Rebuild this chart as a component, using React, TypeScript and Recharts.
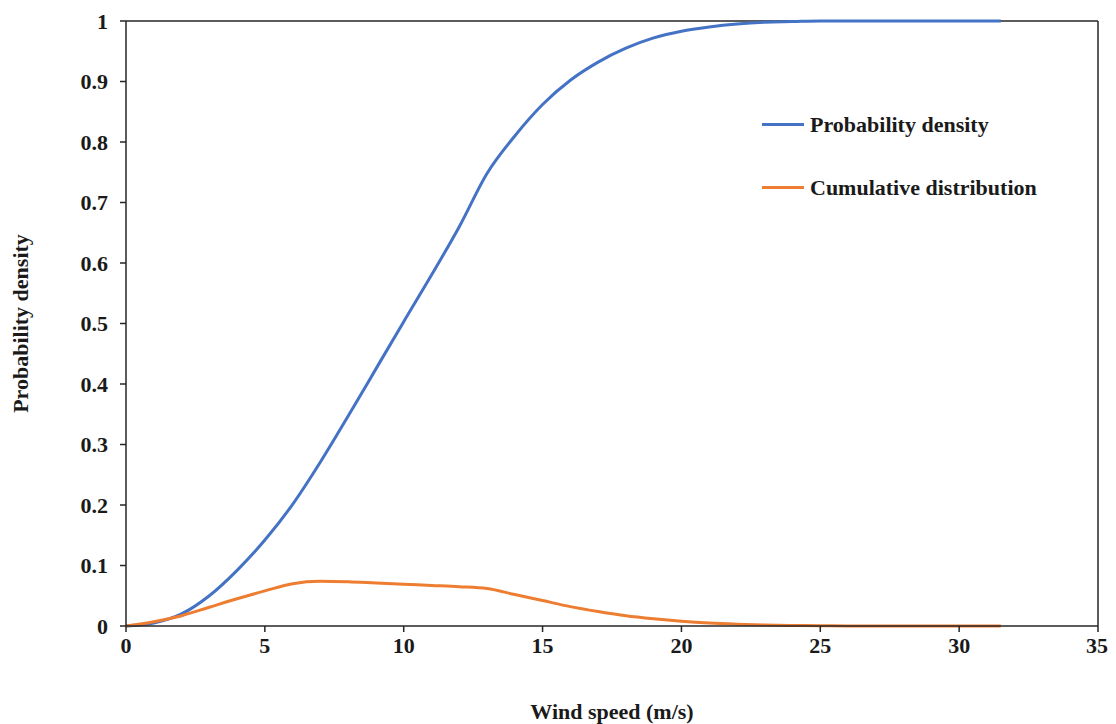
import { Legend, Line, LineChart, ReferenceLine, XAxis, YAxis } from 'recharts'

const FONT = "'Times New Roman', 'Liberation Serif', serif"
const AXIS_COLOR = '#262626'
const BLUE = '#4472C4'
const ORANGE = '#ED7D31'

const windSpeed = [
  0, 1, 2, 3, 4, 5, 6, 7, 8, 9, 10, 11, 12, 13, 14, 15, 16, 17, 18, 19, 20, 21, 22, 23, 24, 25, 26,
  27, 28, 29, 30, 31, 31.5
]
const probabilityDensity = [
  0, 0.005, 0.02, 0.05, 0.092, 0.142, 0.201, 0.271, 0.347, 0.425, 0.503, 0.58, 0.66, 0.748, 0.81,
  0.862, 0.902, 0.932, 0.955, 0.972, 0.983, 0.99, 0.995, 0.998, 0.999, 1, 1, 1, 1, 1, 1, 1, 1
]
const cumulativeDistribution = [
  0, 0.007, 0.017, 0.031, 0.045, 0.058, 0.07, 0.074, 0.073, 0.071, 0.069, 0.067, 0.065, 0.062,
  0.052, 0.042, 0.032, 0.024, 0.017, 0.012, 0.008, 0.005, 0.003, 0.0015, 0.0008, 0.0004, 0, 0, 0,
  0, 0, 0, 0
]
const seriesNames = ['Probability density', 'Cumulative distribution']
const xTicks = [0, 5, 10, 15, 20, 25, 30, 35]
const yTicks = [0, 0.1, 0.2, 0.3, 0.4, 0.5, 0.6, 0.7, 0.8, 0.9, 1]

const data = windSpeed.map((speed, i) => ({
  speed,
  density: probabilityDensity[i],
  cumulative: cumulativeDistribution[i]
}))

const tickStyle = { fontFamily: FONT, fontSize: 22, fontWeight: 700, fill: '#1a1a1a' }

function LegendBox({ payload }: { payload?: { value: string; color: string }[] }) {
  const items = [...(payload ?? [])].sort(
    (a, b) => seriesNames.indexOf(a.value) - seriesNames.indexOf(b.value)
  )
  return (
    <div style={{ fontFamily: FONT, fontWeight: 700, fontSize: 22, color: '#1a1a1a' }}>
      {items.map(item => (
        <div
          key={item.value}
          style={{ display: 'flex', alignItems: 'center', height: 63 }}
        >
          <span style={{ width: 42, height: 3, background: item.color, marginRight: 6 }} />
          <span>{item.value}</span>
        </div>
      ))}
    </div>
  )
}

export default function App() {
  return (
    <LineChart
      data={data}
      height={716}
      margin={{ top: 13, right: 10, bottom: 0, left: 0 }}
      width={1100}
    >
      <XAxis
        axisLine={{ stroke: AXIS_COLOR, strokeWidth: 1.5 }}
        dataKey='speed'
        domain={[0, 35]}
        height={98}
        label={{
          value: 'Wind speed (m/s)',
          position: 'insideBottom',
          offset: 5,
          style: { ...tickStyle, fontSize: 22 }
        }}
        tick={tickStyle}
        tickLine={{ stroke: AXIS_COLOR, strokeWidth: 1.5 }}
        tickMargin={5}
        ticks={xTicks}
        type='number'
      />
      <YAxis
        axisLine={{ stroke: AXIS_COLOR, strokeWidth: 1.5 }}
        domain={[0, 1]}
        label={{
          value: 'Probability density',
          angle: -90,
          position: 'insideLeft',
          offset: 12,
          style: { ...tickStyle, fontSize: 22, textAnchor: 'middle' }
        }}
        tick={tickStyle}
        tickFormatter={(v: number) => String(Math.round(v * 10) / 10)}
        tickLine={{ stroke: AXIS_COLOR, strokeWidth: 1.5 }}
        tickMargin={12}
        ticks={yTicks}
        type='number'
        width={118}
      />
      <ReferenceLine
        stroke={AXIS_COLOR}
        strokeWidth={1.5}
        y={1}
      />
      <ReferenceLine
        stroke={AXIS_COLOR}
        strokeWidth={1.5}
        x={35}
      />
      <Line
        dataKey='density'
        dot={false}
        isAnimationActive={false}
        name={seriesNames[0]}
        stroke={BLUE}
        strokeWidth={3}
        type='monotone'
      />
      <Line
        dataKey='cumulative'
        dot={false}
        isAnimationActive={false}
        name={seriesNames[1]}
        stroke={ORANGE}
        strokeWidth={3}
        type='monotone'
      />
      <Legend
        align='center'
        content={<LegendBox />}
        layout='vertical'
        verticalAlign='middle'
        wrapperStyle={{ top: 85, left: 754, width: 340, bottom: 'auto', right: 'auto' }}
      />
    </LineChart>
  )
}
